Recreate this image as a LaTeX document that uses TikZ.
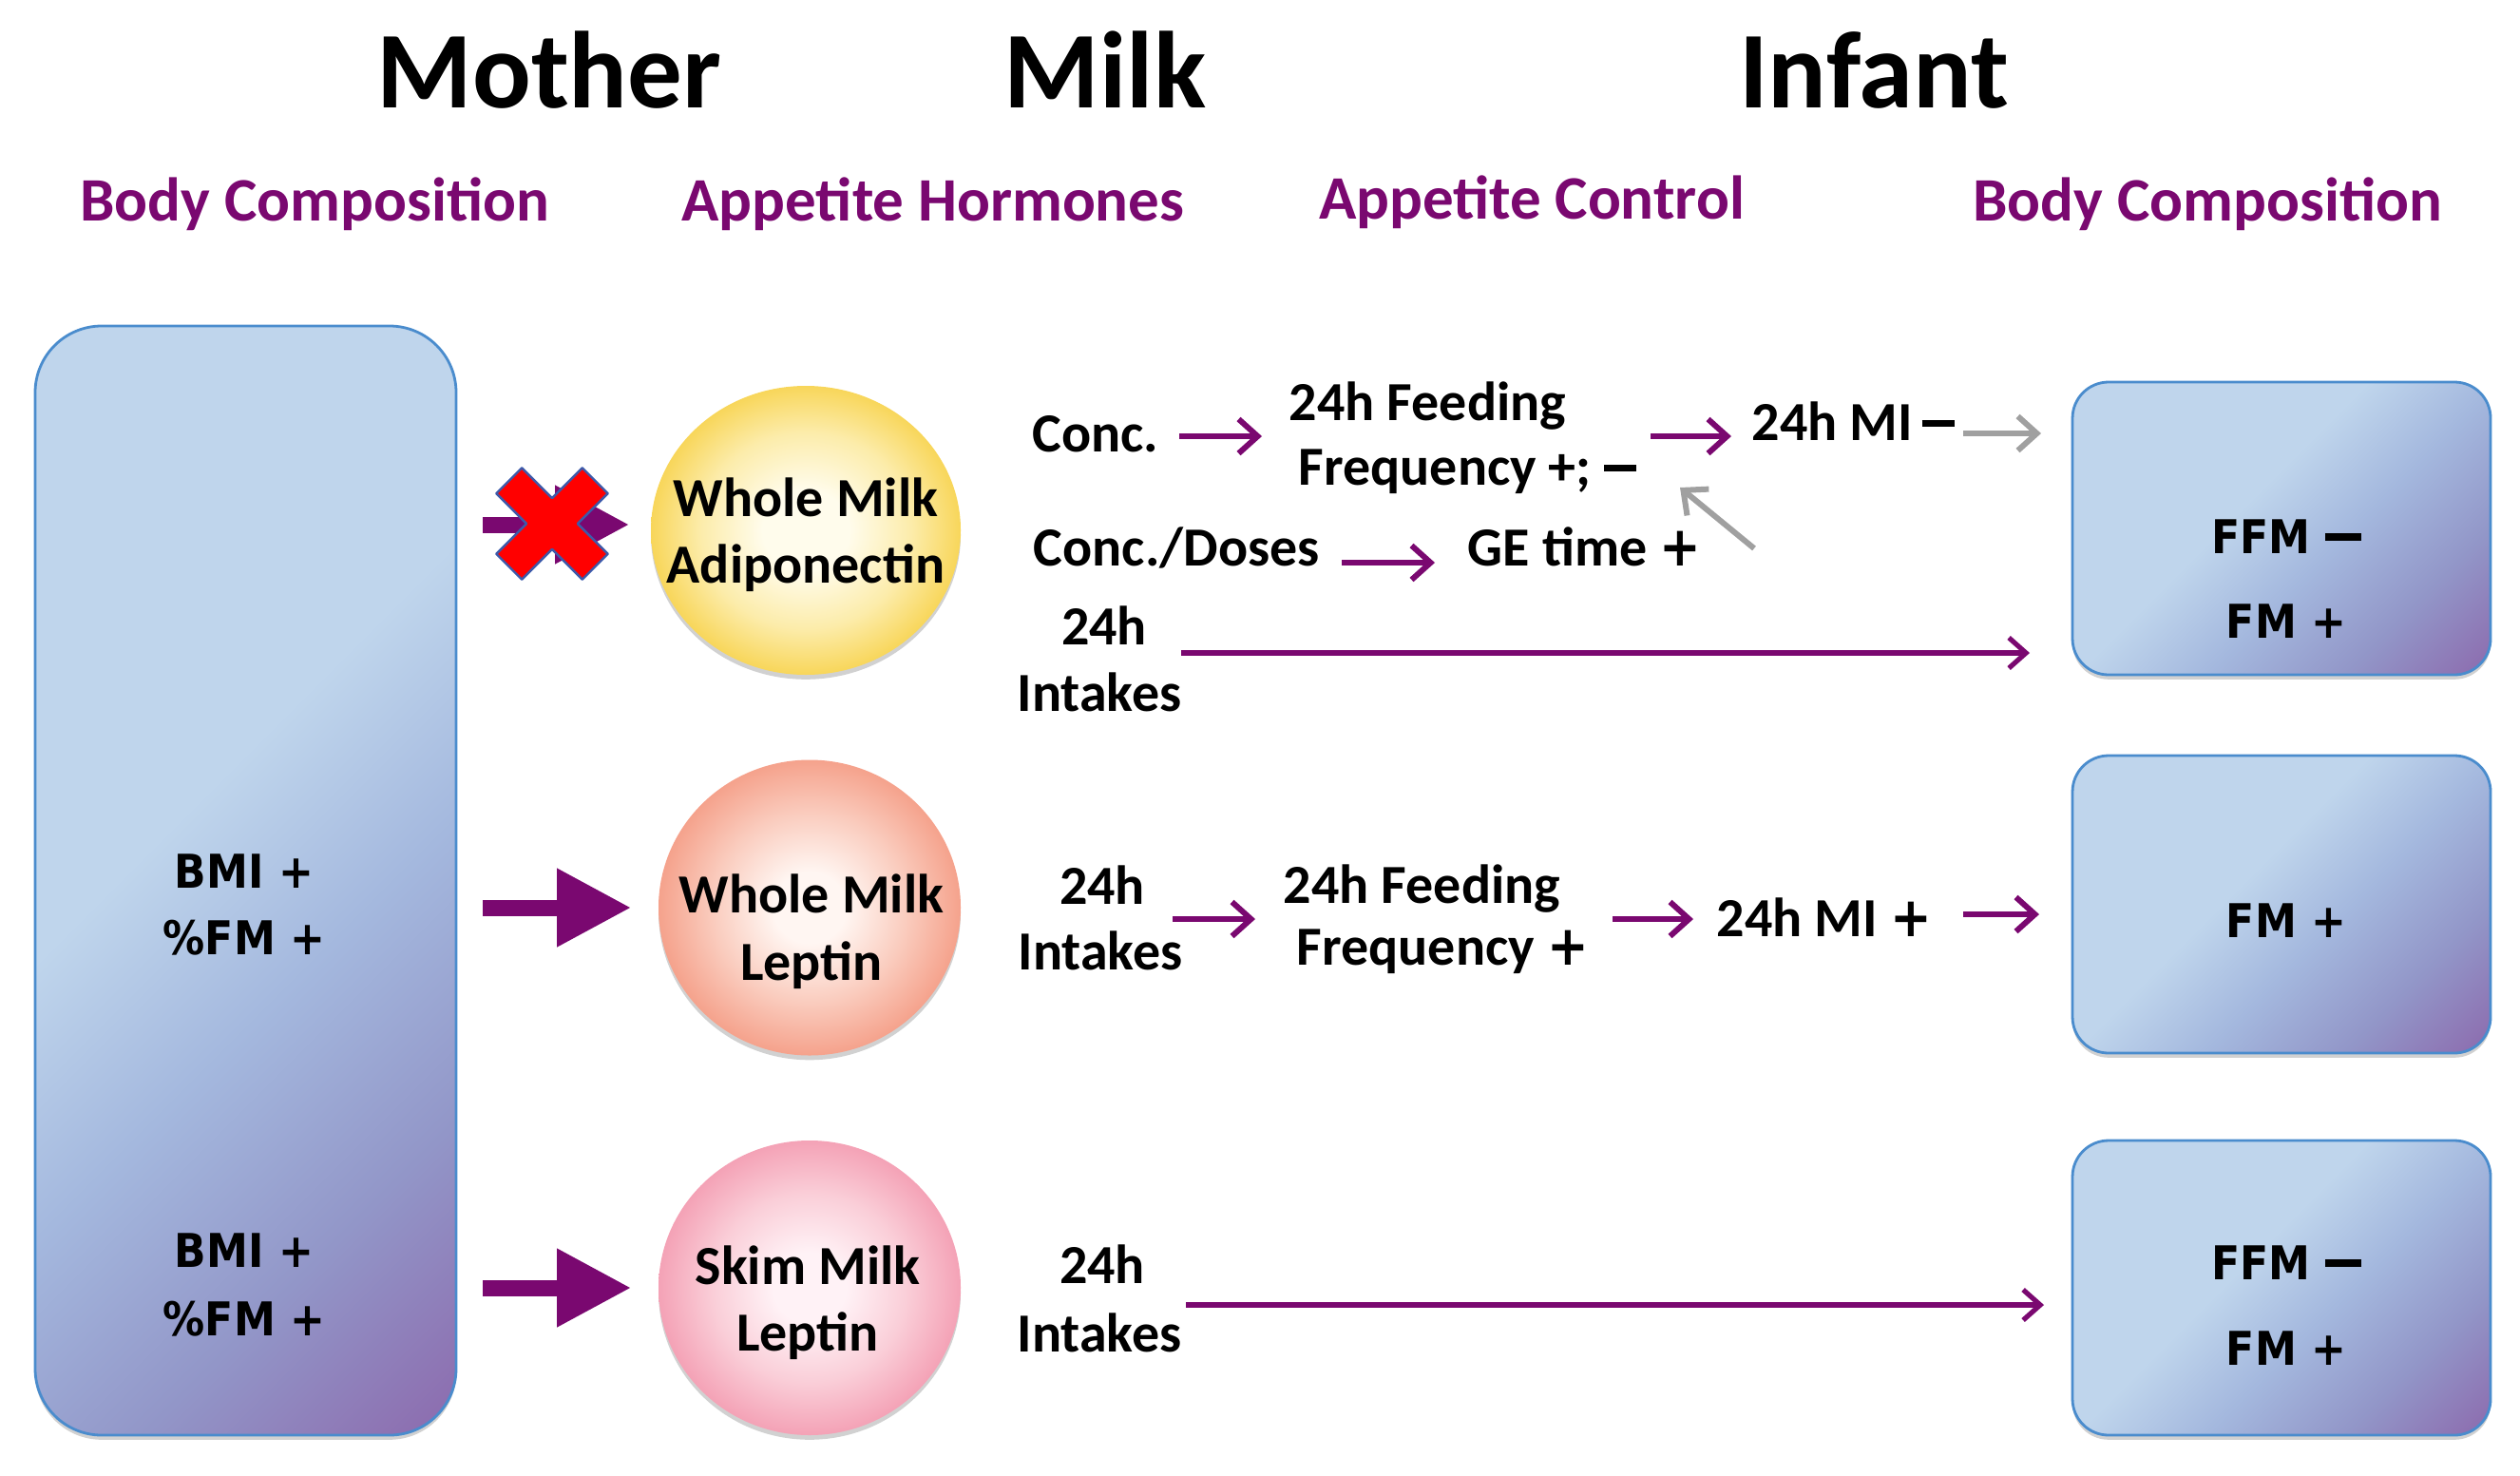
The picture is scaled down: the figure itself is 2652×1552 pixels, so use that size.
\documentclass[tikz,border=0pt]{standalone}
\usepackage{fontspec}
\setmainfont{Carlito}
\newfontfamily\tahfont{DejaVu Sans}[FakeStretch=0.9]
\usetikzlibrary{arrows.meta,shapes.geometric,shadows,calc}
\definecolor{pur}{RGB}{122,8,112}
\definecolor{gry}{RGB}{160,160,160}
\definecolor{bxA}{RGB}{191,213,236}
\definecolor{bxB}{RGB}{164,184,222}
\definecolor{bxC}{RGB}{146,150,200}
\definecolor{bxD}{RGB}{140,104,172}
\definecolor{bxE}{RGB}{74,140,205}
\definecolor{adA}{RGB}{255,252,236}
\definecolor{adM}{RGB}{252,236,170}
\definecolor{adB}{RGB}{248,214,90}
\definecolor{leA}{RGB}{255,246,242}
\definecolor{leM}{RGB}{250,204,190}
\definecolor{leB}{RGB}{245,162,140}
\definecolor{skA}{RGB}{255,242,246}
\definecolor{skM}{RGB}{250,206,216}
\definecolor{skB}{RGB}{244,162,182}
\definecolor{xblue}{RGB}{60,90,170}
\pgfdeclarehorizontalshading{boxsh}{100bp}{color(0bp)=(bxA); color(44bp)=(bxA); color(57bp)=(bxB); color(71bp)=(bxC); color(86bp)=(bxD); color(100bp)=(bxD)}
\pgfdeclareradialshading{adsh}{\pgfpoint{0bp}{0bp}}{color(0bp)=(adA); color(7bp)=(adA); color(17bp)=(adM); color(25bp)=(adB); color(50bp)=(adB)}
\pgfdeclareradialshading{lesh}{\pgfpoint{0bp}{0bp}}{color(0bp)=(leA); color(6bp)=(leA); color(16bp)=(leM); color(25bp)=(leB); color(50bp)=(leB)}
\pgfdeclareradialshading{sksh}{\pgfpoint{0bp}{0bp}}{color(0bp)=(skA); color(6bp)=(skA); color(16bp)=(skM); color(25bp)=(skB); color(50bp)=(skB)}
\newcommand{\mn}{\rule[3.5pt]{8.5pt}{1.7pt}}
\newcommand{\tmn}{\rule[3.3pt]{9.5pt}{1.9pt}}
\newcommand{\bp}{{\tahfont\bfseries +}}
\tikzset{
  title/.style={font=\fontsize{28.75pt}{34pt}\selectfont\bfseries, anchor=base, inner sep=0pt},
  sub/.style={font=\fontsize{16.25pt}{20pt}\selectfont\bfseries, text=pur, anchor=base, inner sep=0pt},
  txt/.style={font=\fontsize{14.5pt}{17.5pt}\selectfont\bfseries, anchor=base, inner sep=0pt},
  tah/.style={font=\tahfont\bfseries\fontsize{12.25pt}{14pt}\selectfont, anchor=base, inner sep=0pt},
  shad/.style={drop shadow={shadow xshift=0pt, shadow yshift=-1.2pt, opacity=0.18, fill=black}},
  bodybox/.style={draw=bxE, line width=0.7pt, shading=boxsh, shading angle=-45, shad},
  milkball/.style={ellipse, inner sep=0pt, shad},
  sarr/.style={draw=pur, line width=1.5pt, -{Straight Barb[length=5pt,width=9pt]}},
  garr/.style={draw=gry, line width=1.5pt, -{Straight Barb[length=5pt,width=9pt]}},
  larr/.style={draw=pur, line width=1.3pt, -{Straight Barb[length=4.5pt,width=8pt]}},
  bigarr/.style={draw=pur, line width=4.25pt, -{Triangle[length=19.5pt,width=19.5pt]}}
}
\begin{document}
\begin{tikzpicture}[x=0.25pt,y=-0.25pt]
\useasboundingbox (0,0) rectangle (2652,1552);
% headings
\node[title] (tMother) at (578,113) {Mother};
\node[title] (tMilk) at (1163,113) {Milk};
\node[title] (tInfant) at (1972,113) {Infant};
\node[sub] (sBody1) at (331,232) {Body Composition};
\node[sub] (sHorm) at (982,232) {Appetite Hormones};
\node[sub] (sCtrl) at (1612,230) {Appetite Control};
\node[sub] (sBody2) at (2323,232) {Body Composition};
% mother box
\node[bodybox, rounded corners=17.5pt, minimum width=110.75pt, minimum height=291.75pt] (mbox) at (258.5,926.5) {};
\node[tah] (m1a) at (257,934) {BMI +};
\node[tah] (m1b) at (257,1004) {\%FM +};
\node[tah] (m2a) at (257,1333) {BMI +};
\node[tah] (m2b) at (257,1405) {\%FM +};
% infant boxes
\node[bodybox, rounded corners=9.5pt, minimum width=110pt, minimum height=77pt] (ib1) at (2401,556) {};
\node[bodybox, rounded corners=9.5pt, minimum width=110pt, minimum height=78.25pt] (ib2) at (2401,951.5) {};
\node[bodybox, rounded corners=9.5pt, minimum width=110pt, minimum height=77.5pt] (ib3) at (2401,1355) {};
\node[tah] (i1a) at (2406,582) {FFM \tmn};
\node[tah] (i1b) at (2406,671) {FM +};
\node[tah] (i2a) at (2406,986) {FM +};
\node[tah] (i3a) at (2406,1346) {FFM \tmn};
\node[tah] (i3b) at (2406,1436) {FM +};
% milk balls
\node[milkball, shading=adsh, minimum width=81.5pt, minimum height=76pt] (adip) at (848,558) {};
\node[milkball, shading=lesh, minimum width=79.5pt, minimum height=77.75pt] (lep) at (852,955) {};
\node[milkball, shading=sksh, minimum width=79.5pt, minimum height=77.5pt] (skim) at (852,1355) {};
\node[txt] (adT1) at (848,543) {Whole Milk};
\node[txt] (adT2) at (848,613) {Adiponectin};
\node[txt] (leT1) at (854,960) {Whole Milk};
\node[txt] (leT2) at (854,1031) {Leptin};
\node[txt] (skT1) at (850,1351) {Skim Milk};
\node[txt] (skT2) at (850,1421) {Leptin};
% big arrows
\draw[bigarr] ($(mbox.east |- adip.west)+(27,-6)$) -- ($(adip.west)+(-22,-6)$);
\draw[bigarr] ($(mbox.east |- lep.west)+(27,0)$) -- ($(lep.west)+(-28,0)$);
\draw[bigarr] ($(mbox.east |- skim.west)+(27,0)$) -- ($(skim.west)+(-28,0)$);
% red cross
\begin{scope}[shift={(581,551)}, rotate=45]
\draw[draw=xblue, line width=0.6pt, fill=red, line join=round]
 (64,19) -- (19,19) -- (19,64) -- (-19,64) -- (-19,19) -- (-64,19) -- (-64,-19) -- (-19,-19) -- (-19,-64) -- (19,-64) -- (19,-19) -- (64,-19) -- cycle;
\end{scope}
% adiponectin row texts
\node[txt] (conc) at (1153,475) {Conc.};
\node[txt, anchor=base west] (feed1a) at (1356,442) {24h Feeding};
\node[txt, anchor=base west] (feed1b) at (1366,510) {Frequency +; \mn};
\node[txt, anchor=base west] (mi1) at (1843,463) {24h MI\,\mn};
\node[txt, anchor=base west] (dose) at (1087,595) {Conc./Doses};
\node[txt, anchor=base west] (ge) at (1544,595) {GE time \bp};
\node[txt] (in1a) at (1162,678) {24h};
\node[txt] (in1b) at (1157,748) {Intakes};
% leptin row texts
\node[txt] (in2a) at (1160,951) {24h};
\node[txt] (in2b) at (1158,1020) {Intakes};
\node[txt, anchor=base west] (feed2a) at (1350,950) {24h Feeding};
\node[txt, anchor=base west] (feed2b) at (1364,1015) {Frequency \bp};
\node[txt, anchor=base west] (mi2) at (1806,985) {24h MI \bp};
% skim row texts
\node[txt] (in3a) at (1160,1350) {24h};
\node[txt] (in3b) at (1157,1422) {Intakes};
% arrow end points
\coordinate (c1s) at (1241,459); \coordinate (c1e) at (1328,459);
\coordinate (c2s) at (1737,459); \coordinate (c2e) at (1822,459);
\coordinate (c3s) at (2066,456); \coordinate (c3e) at (2148,456);
\coordinate (c4s) at (1412,592); \coordinate (c4e) at (1510,592);
\coordinate (c5s) at (1846,577); \coordinate (c5e) at (1768,513);
\coordinate (c6s) at (1243,687); \coordinate (c6e) at (2136,687);
\coordinate (c7s) at (1234,967); \coordinate (c7e) at (1321,967);
\coordinate (c8s) at (1697,967); \coordinate (c8e) at (1782,967);
\coordinate (c9s) at (2066,962); \coordinate (c9e) at (2146,962);
\coordinate (c10s) at (1248,1373); \coordinate (c10e) at (2151,1373);
\draw[sarr] (c1s) -- (c1e);
\draw[sarr] (c2s) -- (c2e);
\draw[garr] (c3s) -- (c3e);
\draw[sarr] (c4s) -- (c4e);
\draw[garr] (c5s) -- (c5e);
\draw[larr] (c6s) -- (c6e);
\draw[sarr] (c7s) -- (c7e);
\draw[sarr] (c8s) -- (c8e);
\draw[sarr] (c9s) -- (c9e);
\draw[larr] (c10s) -- (c10e);
\end{tikzpicture}
\end{document}
